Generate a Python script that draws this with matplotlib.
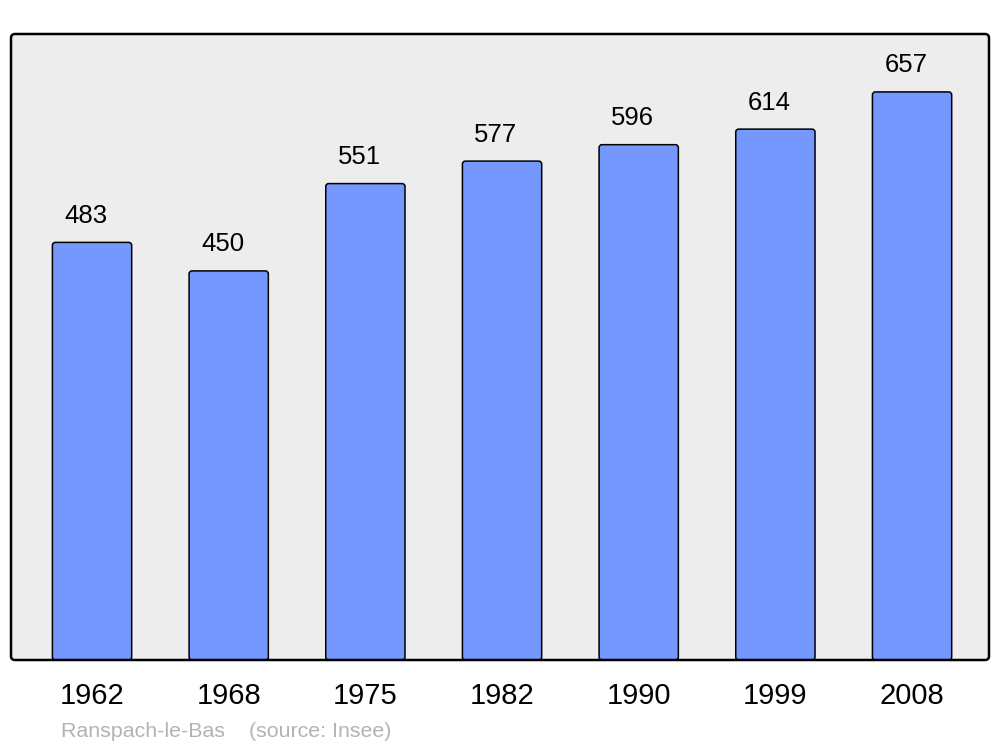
import matplotlib
matplotlib.use("Agg")
import matplotlib.pyplot as plt
from matplotlib.patches import FancyBboxPatch

# data
years = ["1962", "1968", "1975", "1982", "1990", "1999", "2008"]
population = [483, 450, 551, 577, 596, 614, 657]
footer = "Ranspach-le-Bas    (source: Insee)"

plt.rcParams['font.family'] = ['Liberation Sans', 'DejaVu Sans']

fig = plt.figure(figsize=(10, 7.47), dpi=100)
ax = fig.add_axes([0.011, 87 / 747, 0.978, 626 / 747])
ax.set_facecolor("#ededed")

x = range(len(years))
bars = ax.bar(x, population, width=0.58, color="#7598ff",
              edgecolor="black", linewidth=1.1)

ax.set_xlim(-0.593, 6.563)
ax.set_ylim(0, 724)

# swap the plain rectangles for slightly rounded ones
px_x = 978 / (6.563 + 0.593)
px_y = 626 / 724
for b in bars:
    rb = FancyBboxPatch((b.get_x(), b.get_y()), b.get_width(), b.get_height(),
                        boxstyle="round,pad=0,rounding_size=%f" % (3 / px_x),
                        mutation_aspect=px_x / px_y,
                        facecolor=b.get_facecolor(), edgecolor="black",
                        linewidth=1.1)
    b.set_visible(False)
    ax.add_patch(rb)

# value labels above the bars
for xi, v in zip(x, population):
    ax.annotate(str(v), (xi, v), xytext=(-4.5, 14), textcoords="offset points",
                ha="center", va="baseline", fontsize=18.5)

ax.set_yticks([])
ax.set_xticks(list(x))
ax.set_xticklabels(years, fontsize=21)
ax.tick_params(axis="x", length=0, pad=16)

# rounded frame
for s in ax.spines.values():
    s.set_visible(False)
frame = FancyBboxPatch((0, 0), 1, 1, transform=ax.transAxes,
                       boxstyle="round,pad=0,rounding_size=%f" % (4 / 978),
                       mutation_aspect=978 / 626, facecolor="none",
                       edgecolor="black", linewidth=1.8, clip_on=False, zorder=5)
ax.add_patch(frame)

fig.text(0.061, 1 - 737 / 747, footer, fontsize=15.4, color="#b3b3b3",
         ha="left", va="baseline")

fig.savefig("out.png", dpi=100)
